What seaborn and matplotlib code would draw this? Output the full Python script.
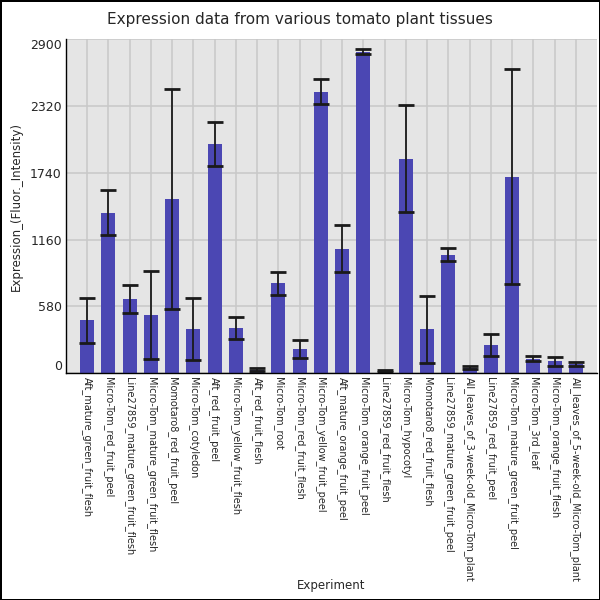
import numpy as np
import pandas as pd
import matplotlib
matplotlib.use('Agg')
import matplotlib.pyplot as plt
import seaborn as sns

# tissue names, mean expression and standard deviation
tissues = ['Aft_mature_green_fruit_flesh', 'Micro-Tom_red_fruit_peel',
           'Line27859_mature_green_fruit_flesh', 'Micro-Tom_mature_green_fruit_flesh',
           'Momotaro8_red_fruit_peel', 'Micro-Tom_cotyledon', 'Aft_red_fruit_peel',
           'Micro-Tom_yellow_fruit_flesh', 'Aft_red_fruit_flesh', 'Micro-Tom_root',
           'Micro-Tom_red_fruit_flesh', 'Micro-Tom_yellow_fruit_peel',
           'Aft_mature_orange_fruit_peel', 'Micro-Tom_orange_fruit_peel',
           'Line27859_red_fruit_flesh', 'Micro-Tom_hypocotyl', 'Momotaro8_red_fruit_flesh',
           'Line27859_mature_green_fruit_peel', 'All_leaves_of_3-week-old_Micro-Tom_plant',
           'Line27859_red_fruit_peel', 'Micro-Tom_mature_green_fruit_peel',
           'Micro-Tom_3rd_leaf', 'Micro-Tom_orange_fruit_flesh',
           'All_leaves_of_5-week-old_Micro-Tom_plant']
expr = [459, 1394, 641, 502, 1515, 381, 1991, 390, 32, 779, 208, 2441,
        1079, 2788, 20, 1861, 381, 1030, 49, 242, 1705, 127, 104, 78]
sd = [195, 198, 121, 382, 954, 270, 190, 95, 13, 97, 77, 108,
      205, 22, 11, 463, 293, 53, 12, 95, 933, 23, 38, 15]
yticks = [0, 580, 1160, 1740, 2320, 2900]

df = pd.DataFrame({'Experiment': tissues, 'Expression_(Fluor._Intensity)': expr})

sns.set_style('darkgrid', {'axes.facecolor': '#e5e5e5', 'grid.color': '#c8c8c8',
                           'axes.edgecolor': 'black'})
plt.rcParams['font.family'] = ['DejaVu Sans']

fig = plt.figure(figsize=(6, 6), dpi=100)
fig.patch.set_edgecolor('black')
fig.patch.set_linewidth(2)
ax = fig.add_axes([0.11, 0.378, 0.885, 0.557])

sns.barplot(data=df, x='Experiment', y='Expression_(Fluor._Intensity)', color='#4b47b3',
            saturation=1, width=0.66, errorbar=None, linewidth=0, ax=ax)
ax.errorbar(np.arange(len(tissues)), expr, yerr=sd, fmt='none', ecolor='#1a1a1a',
            elinewidth=1.3, capsize=5.5, capthick=2)

ax.set_xlim(-1, len(tissues))
ax.set_ylim(0, 2900)
ax.set_yticks(yticks)
ax.set_yticklabels([str(t) for t in yticks], fontsize=9)
ylabs = ax.get_yticklabels()
ylabs[0].set_va('bottom')
ylabs[-1].set_va('top')
ax.tick_params(axis='both', length=0, pad=3)
ax.set_xticks(range(len(tissues)))
ax.set_xticklabels(tissues, rotation=270, fontsize=7, va='top', ha='center')
ax.grid(True, linewidth=1.1)
ax.set_axisbelow(True)
for s in ['top', 'right']:
    ax.spines[s].set_visible(False)
for s in ['left', 'bottom']:
    ax.spines[s].set_linewidth(1)
ax.set_xlabel('Experiment', fontsize=8.5)
ax.xaxis.set_label_coords(0.5, -0.615)
ax.set_ylabel('Expression_(Fluor._Intensity)', fontsize=8.5)
ax.yaxis.set_label_coords(-0.082, 0.5)
fig.suptitle('Expression data from various tomato plant tissues', fontsize=11, y=0.98)

plt.savefig('out.png', dpi=100)
